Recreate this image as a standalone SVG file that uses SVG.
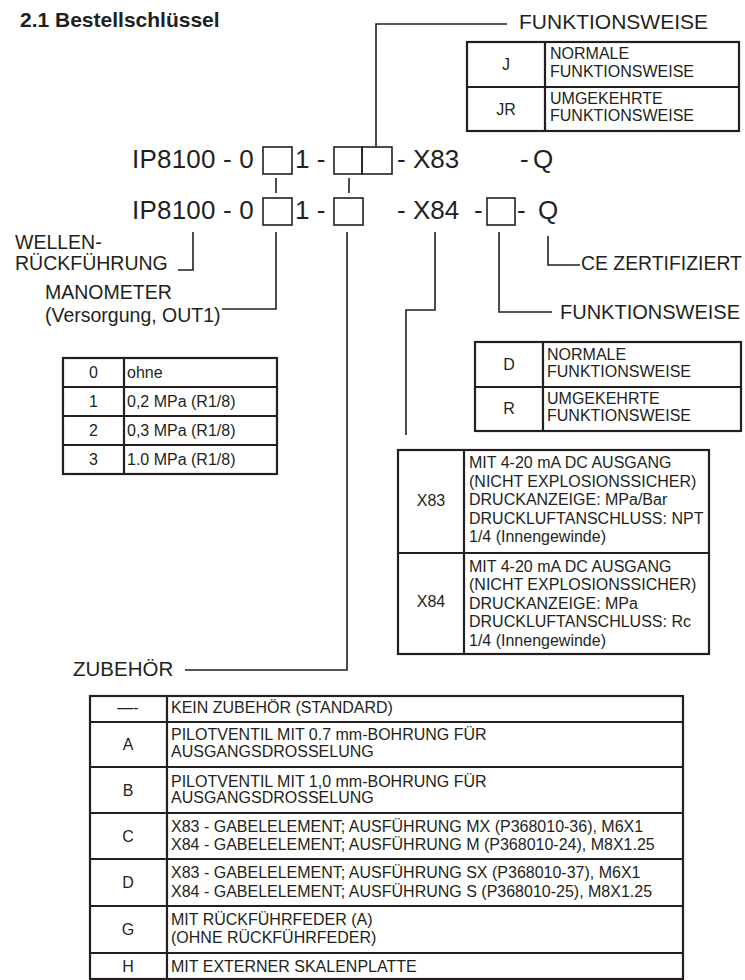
<svg xmlns="http://www.w3.org/2000/svg" width="745" height="980" viewBox="0 0 745 980">
<style>
text{font-family:"Liberation Sans",Arial,sans-serif;fill:#231f20}
.t16{font-size:16px}
.lab{font-size:20px}
.code{font-size:26px}
.mid{text-anchor:middle}
.tb{fill:none;stroke:#231f20;stroke-width:2.2}
.sq{fill:none;stroke:#231f20;stroke-width:1.6}
.cn{fill:none;stroke:#231f20;stroke-width:1.6}
</style>
<rect width="745" height="980" fill="#fff"/>
<g id="title"><text x="20" y="26.5" style="font-size:21px;font-weight:bold">2.1 Bestellschlüssel</text></g>

<g id="code-row1">
<text class="code" x="132" y="168" style="letter-spacing:0.2px">IP8100 - 0</text>
<rect class="sq" x="263" y="147" width="29" height="27"/>
<text class="code" x="295" y="168">1 -</text>
<rect class="sq" x="334" y="147" width="28" height="27"/>
<rect class="sq" x="362" y="147" width="30" height="27"/>
<text class="code" x="397" y="168">- X83</text>
<text class="code" x="520" y="168">-</text>
<text class="code" x="533" y="168">Q</text>
</g>

<g id="code-row2">
<text class="code" x="132" y="219" style="letter-spacing:0.2px">IP8100 - 0</text>
<rect class="sq" x="263" y="198" width="29" height="27"/>
<text class="code" x="295" y="219">1 -</text>
<rect class="sq" x="334" y="198" width="29" height="27"/>
<text class="code" x="397" y="219">- X84</text>
<text class="code" x="474" y="219">-</text>
<rect class="sq" x="487" y="198" width="28" height="27"/>
<text class="code" x="517" y="219">-</text>
<text class="code" x="538" y="219">Q</text>
</g>

<g id="connectors">
<path class="cn" d="M376,147 V24 H507"/>
<path class="cn" d="M276,178 V193"/>
<path class="cn" d="M349,178 V193"/>
<path class="cn" d="M193,232 V270 H178"/>
<path class="cn" d="M276,232 V309 H222"/>
<path class="cn" d="M347,232 V670 H185"/>
<path class="cn" d="M435,232 V310 H406 V435"/>
<path class="cn" d="M499,232 V312 H552"/>
<path class="cn" d="M548,236 V265 H580"/>
</g>

<g id="label-funktionsweise-top"><text class="lab" x="519" y="29" style="font-size:21px">FUNKTIONSWEISE</text></g>

<g id="table-j">
<rect class="tb" x="467" y="42" width="272" height="89"/>
<path class="tb" d="M545,42 V131 M467,87 H739"/>
<text class="t16 mid" x="506" y="70">J</text>
<text class="t16" x="550" y="59">NORMALE</text>
<text class="t16" x="550" y="76.5">FUNKTIONSWEISE</text>
<text class="t16 mid" x="506" y="115">JR</text>
<text class="t16" x="550" y="104">UMGEKEHRTE</text>
<text class="t16" x="550" y="121">FUNKTIONSWEISE</text>
</g>

<g id="label-wellen">
<text x="15" y="249" style="font-size:19.5px">WELLEN-</text>
<text x="15" y="270" style="font-size:19.5px">RÜCKFÜHRUNG</text>
</g>

<g id="label-manometer">
<text x="45" y="299" style="font-size:19.5px">MANOMETER</text>
<text x="45" y="322" style="font-size:19.5px">(Versorgung, OUT1)</text>
</g>

<g id="label-ce"><text x="581" y="270" style="font-size:19.4px">CE ZERTIFIZIERT</text></g>

<g id="label-funktionsweise-mid"><text class="lab" x="560" y="319">FUNKTIONSWEISE</text></g>

<g id="table-manometer">
<rect class="tb" x="63" y="358" width="214" height="116"/>
<path class="tb" d="M124,358 V474 M63,387 H277 M63,416 H277 M63,445 H277"/>
<text class="t16 mid" x="93.5" y="378">0</text>
<text class="t16" x="127" y="378">ohne</text>
<text class="t16 mid" x="93.5" y="407">1</text>
<text class="t16" x="127" y="407">0,2 MPa (R1/8)</text>
<text class="t16 mid" x="93.5" y="436">2</text>
<text class="t16" x="127" y="436">0,3 MPa (R1/8)</text>
<text class="t16 mid" x="93.5" y="465">3</text>
<text class="t16" x="127" y="465">1.0 MPa (R1/8)</text>
</g>

<g id="table-dr">
<rect class="tb" x="475" y="342" width="266" height="89"/>
<path class="tb" d="M543,342 V431 M475,387 H741"/>
<text class="t16 mid" x="509" y="370">D</text>
<text class="t16" x="547" y="360">NORMALE</text>
<text class="t16" x="547" y="377">FUNKTIONSWEISE</text>
<text class="t16 mid" x="509" y="414">R</text>
<text class="t16" x="547" y="404">UMGEKEHRTE</text>
<text class="t16" x="547" y="421">FUNKTIONSWEISE</text>
</g>

<g id="table-x83">
<rect class="tb" x="398" y="450" width="311" height="204"/>
<path class="tb" d="M464,450 V654 M398,553 H709"/>
<text class="t16 mid" x="431" y="506">X83</text>
<text class="t16" x="469" y="468">MIT 4-20 mA DC AUSGANG</text>
<text class="t16" x="469" y="486.5">(NICHT EXPLOSIONSSICHER)</text>
<text class="t16" x="469" y="505">DRUCKANZEIGE: MPa/Bar</text>
<text class="t16" x="469" y="523.5">DRUCKLUFTANSCHLUSS: NPT</text>
<text class="t16" x="469" y="542">1/4 (Innengewinde)</text>
<text class="t16 mid" x="431" y="607">X84</text>
<text class="t16" x="469" y="571.5">MIT 4-20 mA DC AUSGANG</text>
<text class="t16" x="469" y="590">(NICHT EXPLOSIONSSICHER)</text>
<text class="t16" x="469" y="608.5">DRUCKANZEIGE: MPa</text>
<text class="t16" x="469" y="627">DRUCKLUFTANSCHLUSS: Rc</text>
<text class="t16" x="469" y="645.5">1/4 (Innengewinde)</text>
</g>

<g id="label-zubehoer"><text x="73" y="676" style="font-size:20.5px">ZUBEHÖR</text></g>

<g id="table-zubehoer">
<rect class="tb" x="90" y="696" width="593" height="283"/>
<path class="tb" d="M167,696 V979 M90,722 H683 M90,767 H683 M90,813 H683 M90,859 H683 M90,906 H683 M90,953 H683"/>
<text class="t16 mid" x="128" y="713">—-</text>
<text class="t16" x="171" y="713">KEIN ZUBEHÖR (STANDARD)</text>
<text class="t16 mid" x="128" y="750">A</text>
<text class="t16" x="171" y="740">PILOTVENTIL MIT 0.7 mm-BOHRUNG FÜR</text>
<text class="t16" x="171" y="757">AUSGANGSDROSSELUNG</text>
<text class="t16 mid" x="128" y="796">B</text>
<text class="t16" x="171" y="787">PILOTVENTIL MIT 1,0 mm-BOHRUNG FÜR</text>
<text class="t16" x="171" y="803">AUSGANGSDROSSELUNG</text>
<text class="t16 mid" x="128" y="842">C</text>
<text class="t16" x="171" y="832">X83 - GABELELEMENT; AUSFÜHRUNG MX (P368010-36), M6X1</text>
<text class="t16" x="171" y="850">X84 - GABELELEMENT; AUSFÜHRUNG M (P368010-24), M8X1.25</text>
<text class="t16 mid" x="128" y="888">D</text>
<text class="t16" x="171" y="878">X83 - GABELELEMENT; AUSFÜHRUNG SX (P368010-37), M6X1</text>
<text class="t16" x="171" y="897">X84 - GABELELEMENT; AUSFÜHRUNG S (P368010-25), M8X1.25</text>
<text class="t16 mid" x="128" y="935">G</text>
<text class="t16" x="171" y="925">MIT RÜCKFÜHRFEDER (A)</text>
<text class="t16" x="171" y="943">(OHNE RÜCKFÜHRFEDER)</text>
<text class="t16 mid" x="128" y="972">H</text>
<text class="t16" x="171" y="972">MIT EXTERNER SKALENPLATTE</text>
</g>
</svg>
